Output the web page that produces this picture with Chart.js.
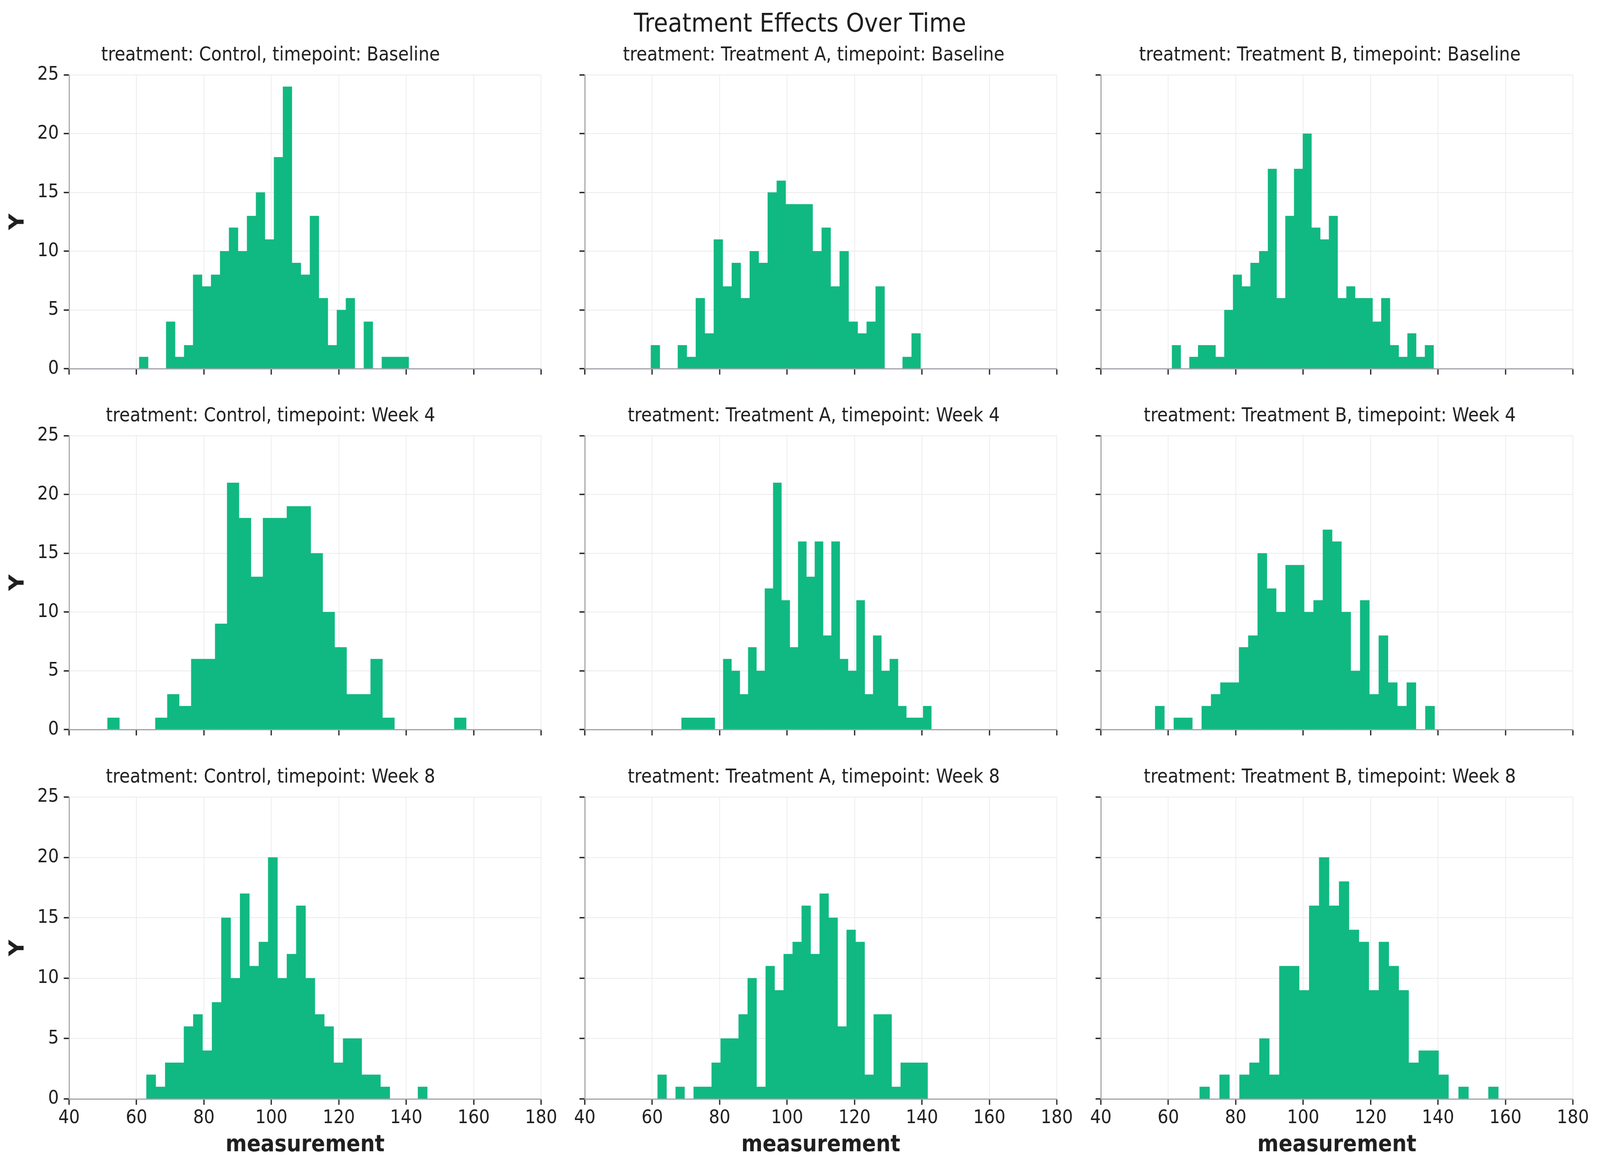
<!DOCTYPE html>
<html>
<head>
<meta charset="utf-8">
<title>Treatment Effects Over Time</title>
<script src="https://cdn.jsdelivr.net/npm/chart.js@4.4.1/dist/chart.umd.min.js"></script>
<style>
  html, body { margin: 0; padding: 0; background: #fff; overflow: hidden; }
  #page {
    position: relative; width: 4542px; height: 2996px; overflow: hidden; background: #fff;
    transform-origin: 0 0;
  }
  #page canvas { position: absolute; }
  #mainTitle {
    position: absolute; left: 0; top: 26px; width: 4542px;
    text-align: center; font-family: "DejaVu Sans", sans-serif;
    font-size: 66px; line-height: 66px; color: #1f1f1f; white-space: nowrap;
  }
</style>
</head>
<body>
<div id="page">
  <div id="mainTitle">Treatment Effects Over Time</div>
</div>
<script>
/* Treatment Effects Over Time - faceted histograms (30 bins each) */

const treatments = ["Control", "Treatment A", "Treatment B"];
const timepoints = ["Baseline", "Week 4", "Week 8"];
const xTicks = [40, 60, 80, 100, 120, 140, 160, 180];
const yTicks = [0, 5, 10, 15, 20, 25];

// counts per bin, and [first edge, last edge] of the bins
const controlBaseline = [1,0,0,4,1,2,8,7,8,10,12,10,13,15,11,18,24,9,8,13,6,2,5,6,0,4,0,1,1,1];
const controlBaselineRange = [60.8, 140.75];
const treatmentABaseline = [2,0,0,2,1,6,3,11,7,9,6,10,9,15,16,14,14,14,10,12,7,10,4,3,4,7,0,0,1,3];
const treatmentABaselineRange = [59.6, 139.6];
const treatmentBBaseline = [2,0,1,2,2,1,5,8,7,9,10,17,6,13,17,20,12,11,13,6,7,6,6,4,6,2,1,3,1,2];
const treatmentBBaselineRange = [61.1, 138.7];

const controlWeek4 = [1,0,0,0,1,3,2,6,6,9,21,18,13,18,18,19,19,15,10,7,3,3,6,1,0,0,0,0,0,1];
const controlWeek4Range = [51.4, 157.8];
const treatmentAWeek4 = [1,1,1,1,0,6,5,3,7,5,12,21,11,7,16,13,16,8,16,6,5,11,3,8,5,6,2,1,1,2];
const treatmentAWeek4Range = [68.7, 142.8];
const treatmentBWeek4 = [2,0,1,1,0,2,3,4,4,7,8,15,12,10,14,14,10,11,17,16,10,5,11,3,8,4,2,4,0,2];
const treatmentBWeek4Range = [56.1, 139.0];

const controlWeek8 = [2,1,3,3,6,7,4,8,15,10,17,11,13,20,10,12,16,10,7,6,3,5,5,2,2,1,0,0,0,1];
const controlWeek8Range = [62.95, 146.25];
const treatmentAWeek8 = [2,0,1,0,1,1,3,5,5,7,10,1,11,9,12,13,16,12,17,15,6,14,13,2,7,7,1,3,3,3];
const treatmentAWeek8Range = [61.6, 141.7];
const treatmentBWeek8 = [1,0,2,0,2,3,5,2,11,11,9,16,20,16,18,14,13,9,13,11,9,3,4,4,2,0,1,0,0,1];
const treatmentBWeek8Range = [69.3, 157.9];

// rows = timepoints, cols = treatments
const panelCounts = [
  [controlBaseline, treatmentABaseline, treatmentBBaseline],
  [controlWeek4, treatmentAWeek4, treatmentBWeek4],
  [controlWeek8, treatmentAWeek8, treatmentBWeek8],
];
const panelRanges = [
  [controlBaselineRange, treatmentABaselineRange, treatmentBBaselineRange],
  [controlWeek4Range, treatmentAWeek4Range, treatmentBWeek4Range],
  [controlWeek8Range, treatmentAWeek8Range, treatmentBWeek8Range],
];

// ---- layout (figure pixels) ----
const PAGE_W = 4542;
const PAGE_H = 2996;
const plotLeft = [196, 1660, 3125];
const plotTop = [192, 1116, 2041];
const PLOT_W = 1340;
const PLOT_H = 773;
const AREA_LEFT = [196, 40, 40];   // room for y axis
const AREA_TOP = 192;              // room for subplot title
const AREA_RIGHT = 60;

// ---- styles ----
const FONT = "'DejaVu Sans', sans-serif";
const TEXT = "#1f1f1f";
const BAR = "#10b981";
const GRID = "#ebebeb";
const SPINE = "#a2a2a9";
const TICK = "#222222";

// stretch the fixed-size figure onto the whole window (viewport can be narrower in CSS px)
function fitPage() {
  const sx = window.innerWidth / PAGE_W;
  const sy = window.innerHeight / PAGE_H;
  document.getElementById("page").style.transform = `scale(${sx}, ${sy})`;
}

function binCenters(counts, range) {
  const w = (range[1] - range[0]) / counts.length;
  return counts.map((_, i) => range[0] + (i + 0.5) * w);
}

function makePanel(row, col) {
  const counts = panelCounts[row][col];
  const centers = binCenters(counts, panelRanges[row][col]);
  const lastRow = row === timepoints.length - 1;

  const areaLeft = AREA_LEFT[col];
  const canvasTop = plotTop[row] - AREA_TOP;
  const canvasH = lastRow ? PAGE_H - canvasTop : AREA_TOP + PLOT_H + 22;
  const areaBottom = canvasH - AREA_TOP - PLOT_H;
  const canvasW = areaLeft + PLOT_W + AREA_RIGHT;

  const canvas = document.createElement("canvas");
  canvas.width = canvasW;
  canvas.height = canvasH;
  canvas.style.left = plotLeft[col] - areaLeft + "px";
  canvas.style.top = canvasTop + "px";
  canvas.style.width = canvasW + "px";
  canvas.style.height = canvasH + "px";
  document.getElementById("page").appendChild(canvas);

  // subplot title box: 49px font, line height 1.2
  const titleFont = 49;
  const titleBox = titleFont * 1.2;
  const titleGap = 20;

  new Chart(canvas.getContext("2d"), {
    type: "bar",
    data: {
      datasets: [
        {
          data: centers.map((x, i) => ({ x, y: counts[i] })),
          backgroundColor: BAR,
          borderWidth: 0,
          barPercentage: 1,
          categoryPercentage: 1,
        },
      ],
    },
    options: {
      responsive: false,
      animation: false,
      devicePixelRatio: 1,
      layout: {
        padding: { top: AREA_TOP - titleBox - titleGap, right: AREA_RIGHT, bottom: 0, left: 0 },
      },
      plugins: {
        legend: { display: false },
        tooltip: { enabled: false },
        title: {
          display: true,
          text: `treatment: ${treatments[col]}, timepoint: ${timepoints[row]}`,
          color: TEXT,
          font: { family: FONT, size: titleFont, weight: "normal", lineHeight: 1.2 },
          padding: { top: 0, bottom: titleGap },
        },
      },
      scales: {
        x: {
          type: "linear",
          min: xTicks[0],
          max: xTicks[xTicks.length - 1],
          offset: false,
          ticks: {
            stepSize: xTicks[1] - xTicks[0],
            autoSkip: false,
            maxRotation: 0,
            padding: 6,
            color: TEXT,
            font: { family: FONT, size: 48 },
            callback: (v) => (lastRow && xTicks.includes(v) ? String(v) : ""),
          },
          grid: {
            offset: false,
            color: GRID,
            lineWidth: 2,
            tickLength: 15,
            tickColor: TICK,
            tickWidth: 3.5,
          },
          border: { display: true, color: SPINE, width: 3, z: 1 },
          title: {
            display: lastRow,
            text: "measurement",
            color: TEXT,
            font: { family: FONT, size: 58, weight: "bold", lineHeight: 1.2 },
            padding: { top: 0, bottom: 28 },
          },
          afterFit: (s) => {
            s.height = areaBottom;
          },
        },
        y: {
          min: yTicks[0],
          max: yTicks[yTicks.length - 1],
          ticks: {
            stepSize: yTicks[1] - yTicks[0],
            padding: 14,
            color: TEXT,
            font: { family: FONT, size: 48 },
            callback: (v) => (col === 0 && yTicks.includes(v) ? String(v) : ""),
          },
          grid: {
            color: GRID,
            lineWidth: 2,
            tickLength: 15,
            tickColor: TICK,
            tickWidth: 3.5,
          },
          border: { display: true, color: SPINE, width: 3, z: 1 },
          title: {
            display: col === 0,
            text: "Y",
            color: TEXT,
            font: { family: FONT, size: 58, weight: "bold", lineHeight: 1.2 },
            padding: { top: 17, bottom: 0 },
          },
          afterFit: (s) => {
            s.width = areaLeft;
          },
        },
      },
    },
  });
}

document.addEventListener("DOMContentLoaded", () => {
  fitPage();
  for (let r = 0; r < timepoints.length; r++) {
    for (let c = 0; c < treatments.length; c++) {
      makePanel(r, c);
    }
  }
});
window.addEventListener("resize", fitPage);
</script>
</body>
</html>
